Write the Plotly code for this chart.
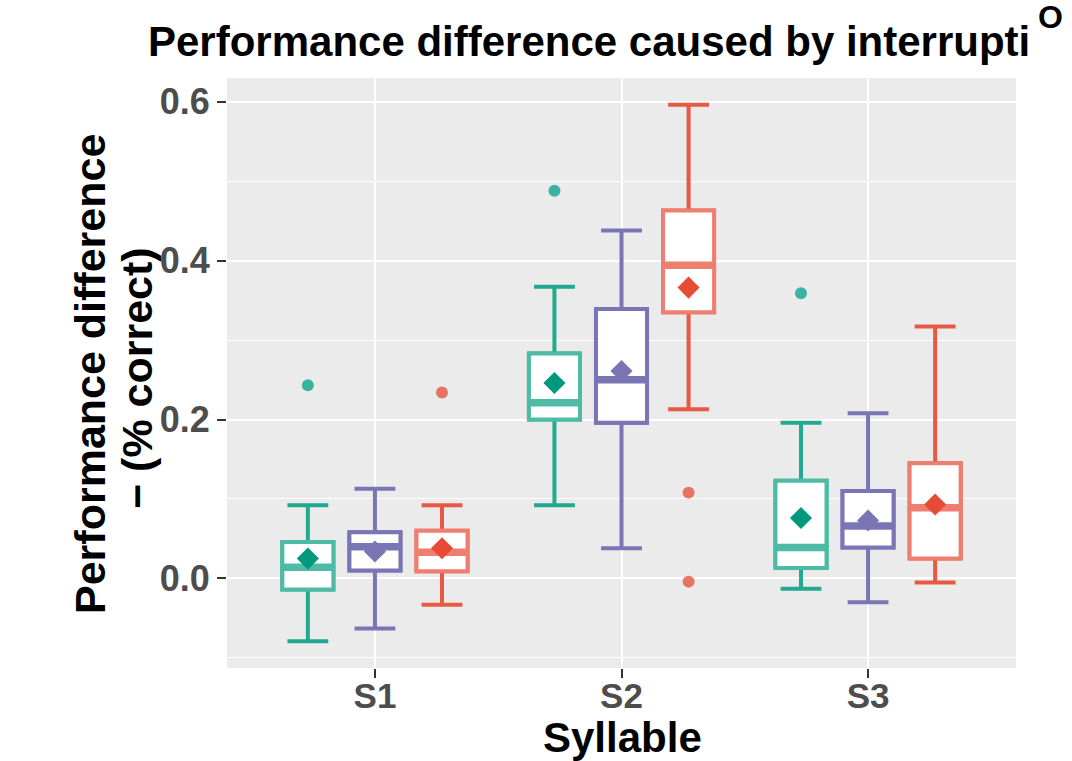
import plotly.graph_objects as go

# ---------------- data ----------------
syllables = ["S1", "S2", "S3"]
groups = ["G1", "G2", "G3"]

q1 = {
    "G1": [-0.014, 0.200, 0.013],
    "G2": [0.010, 0.196, 0.039],
    "G3": [0.009, 0.335, 0.025],
}
median = {
    "G1": [0.014, 0.221, 0.039],
    "G2": [0.040, 0.250, 0.066],
    "G3": [0.033, 0.394, 0.089],
}
q3 = {
    "G1": [0.046, 0.283, 0.123],
    "G2": [0.058, 0.339, 0.110],
    "G3": [0.060, 0.463, 0.145],
}
lower = {
    "G1": [-0.079, 0.092, -0.013],
    "G2": [-0.063, 0.038, -0.030],
    "G3": [-0.033, 0.213, -0.005],
}
upper = {
    "G1": [0.092, 0.367, 0.196],
    "G2": [0.113, 0.438, 0.208],
    "G3": [0.092, 0.596, 0.317],
}
means = {
    "G1": [0.025, 0.246, 0.076],
    "G2": [0.034, 0.261, 0.073],
    "G3": [0.038, 0.366, 0.093],
}
# outliers: (syllable index, value)
outlier_syll = {
    "G1": [0, 1, 2],
    "G2": [],
    "G3": [0, 1, 1],
}
outlier_val = {
    "G1": [0.243, 0.488, 0.359],
    "G2": [],
    "G3": [0.234, 0.108, -0.004],
}

# ---------------- style ----------------
box_col = {"G1": "#4DBBA6", "G2": "#7A76B5", "G3": "#EE7E6F"}
whisk_col = {"G1": "#22A98F", "G2": "#7A76B5", "G3": "#E65A45"}
mean_col = {"G1": "#00997D", "G2": "#7A76B5", "G3": "#E64B35"}
out_col = {"G1": "rgba(0,160,135,0.75)", "G2": "rgba(120,115,180,0.75)", "G3": "rgba(230,75,53,0.75)"}
dodge = 0.272
box_w = 0.207

fig = go.Figure()
xpos = {}
for gi, g in enumerate(groups):
    xpos[g] = [i + 1 + (gi - 1) * dodge for i in range(len(syllables))]

# whiskers + caps
for g in groups:
    fig.add_trace(go.Box(
        x=xpos[g], q1=q1[g], median=median[g], q3=q3[g],
        lowerfence=lower[g], upperfence=upper[g],
        width=box_w, whiskerwidth=0.8,
        fillcolor="white",
        line=dict(color=whisk_col[g], width=4),
        boxpoints=False, showlegend=False, hoverinfo="skip",
    ))

# box body on top, lighter colour
for g in groups:
    fig.add_trace(go.Box(
        x=xpos[g], q1=q1[g], median=median[g], q3=q3[g],
        lowerfence=q1[g], upperfence=q3[g],
        width=box_w, whiskerwidth=0,
        fillcolor="white",
        line=dict(color=box_col[g], width=4),
        boxpoints=False, showlegend=False, hoverinfo="skip",
    ))

# thick median bands
for g in groups:
    mx, my = [], []
    for x, m in zip(xpos[g], median[g]):
        mx += [x - box_w / 2, x + box_w / 2, None]
        my += [m, m, None]
    fig.add_trace(go.Scatter(
        x=mx, y=my, mode="lines",
        line=dict(color=box_col[g], width=7.5),
        showlegend=False, hoverinfo="skip",
    ))

# means
for g in groups:
    fig.add_trace(go.Scatter(
        x=xpos[g], y=means[g], mode="markers",
        marker=dict(symbol="diamond", size=17, color=mean_col[g], line=dict(width=0)),
        showlegend=False, hoverinfo="skip",
    ))

# outliers
for g in groups:
    if not outlier_val[g]:
        continue
    ox = [xpos[g][s] for s in outlier_syll[g]]
    fig.add_trace(go.Scatter(
        x=ox, y=outlier_val[g], mode="markers",
        marker=dict(symbol="circle", size=12, color=out_col[g], line=dict(width=0)),
        showlegend=False, hoverinfo="skip",
    ))

FONT = "Liberation Sans, Arial, sans-serif"
OFF = 0  # page body margin removed below
W, H = 1072, 761
L, T = 227 - OFF, 78 - OFF
R = W - (1016 - OFF)
B = H - (668 - OFF)
pw, ph = W - L - R, H - T - B


def px_x(sx):
    return (sx - OFF - L) / pw


def px_y(sy):
    return 1 - (sy - OFF - T) / ph


fig.update_layout(
    width=W, height=H,
    margin=dict(l=L, r=R, t=T, b=B, autoexpand=False),
    paper_bgcolor="white",
    plot_bgcolor="#EBEBEB",
    font=dict(family=FONT),
    title=dict(
        text="<b>Performance difference caused by interrupti</b>",
        font=dict(size=42, color="black", family=FONT),
        xref="container", x=(148 - OFF) / W, xanchor="left",
        yref="container", y=1 - (41 - OFF) / H, yanchor="middle",
    ),
    xaxis=dict(
        range=[0.4, 3.6],
        tickmode="array", tickvals=[1, 2, 3], ticktext=[f"<b>{s}</b>" for s in syllables],
        tickfont=dict(size=35, color="#4D4D4D", family=FONT),
        ticks="outside", ticklen=9, tickwidth=2, tickcolor="#333333",
        ticklabelstandoff=-12,
        showgrid=True, gridcolor="white", gridwidth=2,
        zeroline=False, showline=False, automargin=False,
    ),
    yaxis=dict(
        range=[-0.1127, 0.6298],
        tickmode="array", tickvals=[0.0, 0.2, 0.4, 0.6],
        ticktext=["<b>0.0</b>", "<b>0.2</b>", "<b>0.4</b>", "<b>0.6</b>"],
        tickfont=dict(size=36, color="#4D4D4D", family=FONT),
        ticks="outside", ticklen=9, tickwidth=2, tickcolor="#333333",
        showgrid=True, gridcolor="white", gridwidth=2,
        minor=dict(tickvals=[-0.1, 0.1, 0.3, 0.5], showgrid=True,
                   gridcolor="white", gridwidth=1, ticks=""),
        zeroline=False, showline=False, automargin=False,
    ),
    annotations=[
        dict(text="<b>O</b>", xref="paper", yref="paper",
             x=px_x(1050), y=px_y(17), xanchor="center", yanchor="middle",
             showarrow=False, font=dict(size=32, color="black", family=FONT)),
        dict(text="<b>Performance difference</b>", xref="paper", yref="paper",
             x=px_x(90), y=px_y(374), xanchor="center", yanchor="middle",
             textangle=-90, showarrow=False,
             font=dict(size=43, color="black", family=FONT)),
        dict(text="<b>− (% correct)</b>", xref="paper", yref="paper",
             x=px_x(137), y=px_y(378), xanchor="center", yanchor="middle",
             textangle=-90, showarrow=False,
             font=dict(size=43, color="black", family=FONT)),
        dict(text="<b>Syllable</b>", xref="paper", yref="paper",
             x=px_x(622), y=px_y(737), xanchor="center", yanchor="middle",
             showarrow=False, font=dict(size=42, color="black", family=FONT)),
    ],
)

fig.write_html(
    "out.html",
    config={"displayModeBar": False},
    post_script="document.body.style.margin='0px';document.body.style.overflow='hidden';",
)
